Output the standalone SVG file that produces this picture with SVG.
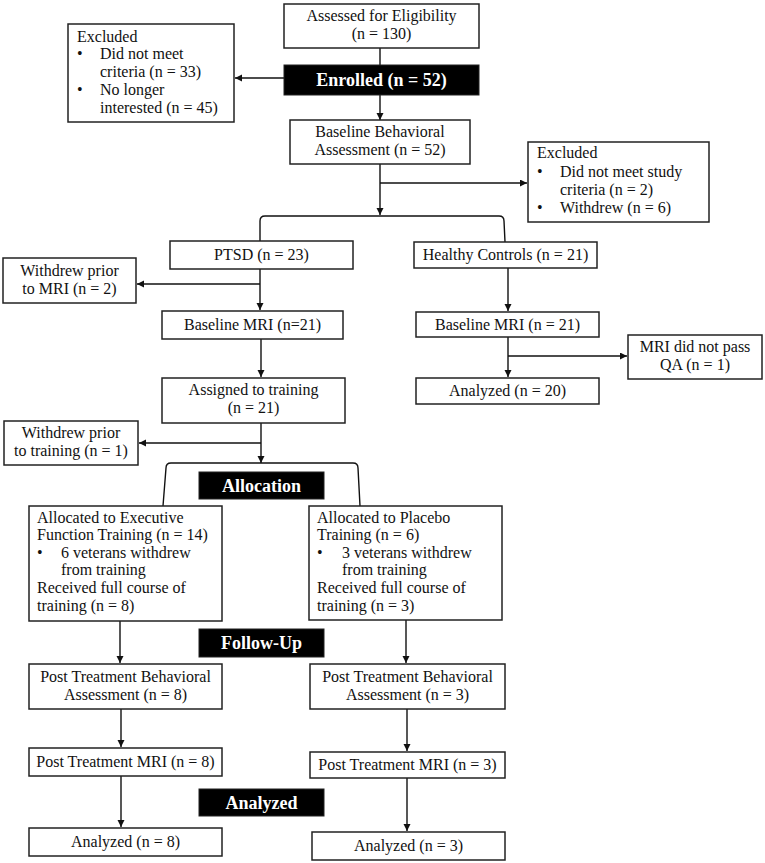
<svg xmlns="http://www.w3.org/2000/svg" width="765" height="863" viewBox="0 0 765 863">
<style>
.box{fill:#fff;stroke:#222;stroke-width:1.5}
.blk{fill:#000;stroke:#222;stroke-width:1}
.t{font-family:"Liberation Serif","Times New Roman",serif;font-size:16px;fill:#111}
.c{text-anchor:middle}
.w{font-family:"Liberation Serif","Times New Roman",serif;font-size:18px;font-weight:bold;fill:#fff;text-anchor:middle}
.ln{fill:none;stroke:#111;stroke-width:1.4}
.ar{fill:none;stroke:#111;stroke-width:1.4;marker-end:url(#ah)}
</style>
<defs>
<marker id="ah" markerUnits="userSpaceOnUse" markerWidth="8" markerHeight="8" refX="7" refY="3.5" orient="auto">
<path d="M0,0 L7,3.5 L0,7 z" fill="#111"/>
</marker>
</defs>
<rect width="765" height="863" fill="#fff"/>
<g id="connectors">
<line class="ln" x1="380" y1="48" x2="380" y2="65"/>
<line class="ar" x1="284" y1="78" x2="235" y2="78"/>
<line class="ar" x1="380" y1="95" x2="380" y2="120"/>
<line class="ar" x1="380" y1="164" x2="380" y2="215"/>
<line class="ar" x1="380" y1="183" x2="527" y2="183"/>
<path class="ln" d="M260,241 L260,221 Q260,216 265,216 L499,216 Q504,216 504,221 L505,242"/>
<line class="ar" x1="260" y1="269" x2="260" y2="310"/>
<line class="ar" x1="260" y1="284" x2="137" y2="284"/>
<line class="ar" x1="261" y1="339" x2="261" y2="377"/>
<line class="ar" x1="261" y1="423" x2="261" y2="463"/>
<line class="ar" x1="261" y1="443" x2="139" y2="443"/>
<path class="ln" d="M163,506 L166,468 Q166,463 171,463 L353,463 Q358,463 358,468 L360,506"/>
<line class="ar" x1="508" y1="268" x2="508" y2="311"/>
<line class="ar" x1="508" y1="337" x2="508" y2="377"/>
<line class="ar" x1="508" y1="356" x2="627" y2="356"/>
<line class="ar" x1="120" y1="621" x2="120" y2="663"/>
<line class="ar" x1="406" y1="620" x2="406" y2="663"/>
<line class="ar" x1="121" y1="709" x2="121" y2="747"/>
<line class="ar" x1="407" y1="709" x2="407" y2="751"/>
<line class="ar" x1="121" y1="776" x2="121" y2="827"/>
<line class="ar" x1="407" y1="778" x2="407" y2="831"/>
</g>
<g id="assessed">
<rect class="box" x="284" y="4" width="195" height="44"/>
<text class="t c" x="381.5" y="21">Assessed for Eligibility</text>
<text class="t c" x="381.5" y="39">(n = 130)</text>
</g>
<g id="enrolled">
<rect class="blk" x="284" y="65" width="195" height="30"/>
<text class="w" x="381.5" y="86">Enrolled (n = 52)</text>
</g>
<g id="excluded1">
<rect class="box" x="68" y="24" width="166" height="98"/>
<text class="t" x="77" y="42">Excluded</text>
<text class="t" x="77" y="59">•</text>
<text class="t" x="100" y="59">Did not meet</text>
<text class="t" x="100" y="77">criteria (n = 33)</text>
<text class="t" x="77" y="95">•</text>
<text class="t" x="100" y="95">No longer</text>
<text class="t" x="100" y="113">interested (n = 45)</text>
</g>
<g id="baseline-behavioral">
<rect class="box" x="290" y="120" width="180" height="44"/>
<text class="t c" x="380" y="137">Baseline Behavioral</text>
<text class="t c" x="380" y="155">Assessment (n = 52)</text>
</g>
<g id="excluded2">
<rect class="box" x="528" y="142" width="181" height="80"/>
<text class="t" x="537" y="158">Excluded</text>
<text class="t" x="537" y="177">•</text>
<text class="t" x="560" y="177">Did not meet study</text>
<text class="t" x="560" y="195">criteria (n = 2)</text>
<text class="t" x="537" y="213">•</text>
<text class="t" x="560" y="213">Withdrew (n = 6)</text>
</g>
<g id="ptsd">
<rect class="box" x="170" y="241" width="183" height="28"/>
<text class="t c" x="261.5" y="260">PTSD (n = 23)</text>
</g>
<g id="healthy-controls">
<rect class="box" x="414" y="242" width="183" height="26"/>
<text class="t c" x="505.5" y="260">Healthy Controls (n = 21)</text>
</g>
<g id="withdrew-mri">
<rect class="box" x="3" y="258" width="133" height="45"/>
<text class="t c" x="69.5" y="276">Withdrew prior</text>
<text class="t c" x="69.5" y="294">to MRI (n = 2)</text>
</g>
<g id="baseline-mri-ptsd">
<rect class="box" x="162" y="311" width="181" height="28"/>
<text class="t c" x="252.5" y="330">Baseline MRI (n=21)</text>
</g>
<g id="assigned">
<rect class="box" x="162" y="378" width="183" height="45"/>
<text class="t c" x="253.5" y="395">Assigned to training</text>
<text class="t c" x="253.5" y="413">(n = 21)</text>
</g>
<g id="withdrew-training">
<rect class="box" x="4" y="421" width="134" height="44"/>
<text class="t c" x="71" y="438">Withdrew prior</text>
<text class="t c" x="71" y="456">to training (n = 1)</text>
</g>
<g id="baseline-mri-hc">
<rect class="box" x="416" y="312" width="183" height="25"/>
<text class="t c" x="507.5" y="330">Baseline MRI (n = 21)</text>
</g>
<g id="mri-qa">
<rect class="box" x="628" y="335" width="134" height="44"/>
<text class="t c" x="695" y="352">MRI did not pass</text>
<text class="t c" x="695" y="370">QA (n = 1)</text>
</g>
<g id="analyzed-hc">
<rect class="box" x="416" y="378" width="183" height="26"/>
<text class="t c" x="507.5" y="396">Analyzed (n = 20)</text>
</g>
<g id="allocation">
<rect class="blk" x="199" y="472" width="125" height="27"/>
<text class="w" x="261.5" y="492">Allocation</text>
</g>
<g id="allocated-ef">
<rect class="box" x="29" y="506" width="193" height="115"/>
<text class="t" x="37" y="523">Allocated to Executive</text>
<text class="t" x="37" y="540">Function Training (n = 14)</text>
<text class="t" x="37" y="558">•</text>
<text class="t" x="61" y="558">6 veterans withdrew</text>
<text class="t" x="61" y="575">from training</text>
<text class="t" x="37" y="593">Received full course of</text>
<text class="t" x="37" y="611">training (n = 8)</text>
</g>
<g id="allocated-placebo">
<rect class="box" x="309" y="506" width="193" height="114"/>
<text class="t" x="317" y="523">Allocated to Placebo</text>
<text class="t" x="317" y="540">Training (n = 6)</text>
<text class="t" x="317" y="558">•</text>
<text class="t" x="342" y="558">3 veterans withdrew</text>
<text class="t" x="342" y="575">from training</text>
<text class="t" x="317" y="593">Received full course of</text>
<text class="t" x="317" y="611">training (n = 3)</text>
</g>
<g id="follow-up">
<rect class="blk" x="199" y="629" width="125" height="28"/>
<text class="w" x="261.5" y="649">Follow-Up</text>
</g>
<g id="post-behav-ef">
<rect class="box" x="29" y="664" width="193" height="45"/>
<text class="t c" x="125.5" y="682">Post Treatment Behavioral</text>
<text class="t c" x="125.5" y="700">Assessment (n = 8)</text>
</g>
<g id="post-behav-placebo">
<rect class="box" x="310" y="664" width="195" height="45"/>
<text class="t c" x="407.5" y="682">Post Treatment Behavioral</text>
<text class="t c" x="407.5" y="700">Assessment (n = 3)</text>
</g>
<g id="post-mri-ef">
<rect class="box" x="29" y="748" width="193" height="28"/>
<text class="t c" x="125.5" y="767">Post Treatment MRI (n = 8)</text>
</g>
<g id="post-mri-placebo">
<rect class="box" x="310" y="752" width="195" height="26"/>
<text class="t c" x="407.5" y="770">Post Treatment MRI (n = 3)</text>
</g>
<g id="analyzed-label">
<rect class="blk" x="199" y="789" width="125" height="27"/>
<text class="w" x="261.5" y="809">Analyzed</text>
</g>
<g id="analyzed-ef">
<rect class="box" x="29" y="828" width="193" height="28"/>
<text class="t c" x="125.5" y="847">Analyzed (n = 8)</text>
</g>
<g id="analyzed-placebo">
<rect class="box" x="312" y="832" width="193" height="28"/>
<text class="t c" x="408.5" y="851">Analyzed (n = 3)</text>
</g>
</svg>
